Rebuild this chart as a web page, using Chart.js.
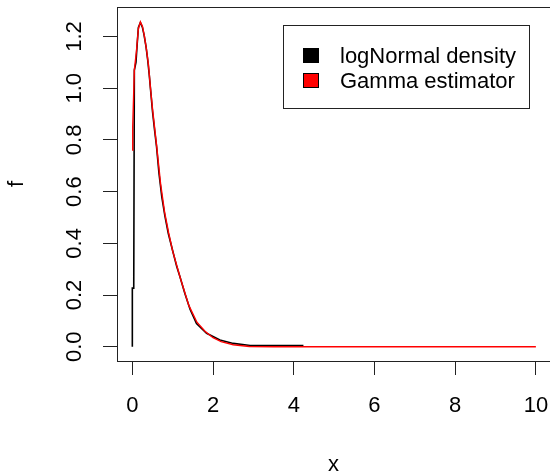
<!DOCTYPE html>
<html>
<head>
<meta charset="utf-8">
<script src="https://cdn.jsdelivr.net/npm/chart.js@4/dist/chart.umd.min.js"></script>
<style>
  body { margin: 0; background: #fff; }
  #wrap { width: 550px; height: 473px; }
</style>
</head>
<body>
<div id="wrap"><canvas id="densityChart" width="550" height="473"></canvas></div>
<script>
// values
const blackX = [0, 0, 0.035, 0.05, 0.09, 0.12, 0.15, 0.2, 0.25, 0.29, 0.34, 0.38, 0.42, 0.46, 0.5, 0.55, 0.6, 0.66, 0.73, 0.81, 0.89, 0.99, 1.1, 1.18, 1.3, 1.43, 1.59, 1.84, 2.17, 2.5, 2.92, 3.5, 4.24];
const blackY = [0, 0.227, 0.227, 1.07, 1.1, 1.17, 1.235, 1.254, 1.235, 1.206, 1.16, 1.11, 1.05, 0.98, 0.91, 0.84, 0.774, 0.671, 0.58, 0.503, 0.439, 0.377, 0.31, 0.271, 0.207, 0.145, 0.09, 0.052, 0.026, 0.013, 0.005, 0.005, 0.005];

const redX = [0, 0.01, 0.05, 0.1, 0.15, 0.2, 0.25, 0.3, 0.35, 0.4, 0.45, 0.5, 0.6, 0.7, 0.8, 0.9, 1.0, 1.2, 1.4, 1.6, 1.8, 2.0, 2.2, 2.5, 2.9, 3.5, 5, 10];
const redY = [0.76, 0.85, 1.07, 1.14, 1.23, 1.256, 1.24, 1.2, 1.15, 1.09, 1.0, 0.92, 0.78, 0.63, 0.52, 0.44, 0.37, 0.26, 0.16, 0.095, 0.06, 0.035, 0.02, 0.008, 0.001, 0, 0, 0];

const xTicks = [0, 2, 4, 6, 8, 10];
const yTicks = [0, 0.2, 0.4, 0.6, 0.8, 1.0, 1.2];
const seriesNames = ['logNormal density', 'Gamma estimator'];
const seriesColors = ['#000000', '#ff0000'];

const FONT = '"Liberation Sans", Arial, sans-serif';

function toPoints(xs, ys) {
    return xs.map((x, i) => ({ x: x, y: ys[i] }));
}

// R-style full box around the plot region
const boxPlugin = {
    id: 'box',
    afterDraw(chart) {
        const { ctx, chartArea: a } = chart;
        ctx.save();
        ctx.strokeStyle = '#222';
        ctx.lineWidth = 1;
        ctx.strokeRect(a.left + 0.5, a.top + 0.5, a.right - a.left, a.bottom - a.top);
        ctx.restore();
    }
};

// legend box in the top right corner
const legendPlugin = {
    id: 'rLegend',
    afterDraw(chart) {
        const ctx = chart.ctx;
        ctx.save();
        ctx.fillStyle = '#fff';
        ctx.fillRect(283, 25, 246, 83);
        ctx.strokeStyle = '#222';
        ctx.lineWidth = 1;
        ctx.strokeRect(283.5, 25.5, 246, 83);
        ctx.font = '22px ' + FONT;
        ctx.textBaseline = 'alphabetic';
        chart.data.datasets.forEach((ds, i) => {
            const y = 48 + i * 25;
            ctx.fillStyle = ds.borderColor;
            ctx.fillRect(303, y, 16, 15);
            ctx.strokeStyle = '#000';
            ctx.strokeRect(303.5, y + 0.5, 15, 14);
            ctx.fillStyle = '#000';
            ctx.fillText(ds.label, 340, 63 + i * 25);
        });
        ctx.restore();
    }
};

const ctx = document.getElementById('densityChart').getContext('2d');

new Chart(ctx, {
    type: 'line',
    data: {
        datasets: [
            {
                label: seriesNames[0],
                data: toPoints(blackX, blackY),
                borderColor: seriesColors[0],
                borderWidth: 1.6,
                pointRadius: 0,
                tension: 0,
                order: 1
            },
            {
                label: seriesNames[1],
                data: toPoints(redX, redY),
                borderColor: seriesColors[1],
                borderWidth: 1.4,
                pointRadius: 0,
                tension: 0,
                order: 0
            }
        ]
    },
    options: {
        responsive: false,
        animation: false,
        devicePixelRatio: 1,
        layout: { padding: { top: 7, right: 0, bottom: 0, left: 0 } },
        plugins: {
            legend: { display: false },
            tooltip: { enabled: false }
        },
        scales: {
            x: {
                type: 'linear',
                min: -0.38,
                max: 10.35,
                afterBuildTicks: scale => { scale.ticks = xTicks.map(v => ({ value: v })); },
                afterFit: scale => {
                    scale.height = 112;
                    scale.paddingLeft = 0;
                    scale.paddingRight = 0;
                },
                grid: { drawOnChartArea: false, drawTicks: true, tickLength: 14, color: '#222' },
                border: { display: false },
                ticks: {
                    color: '#000',
                    padding: 18,
                    maxRotation: 0,
                    font: { family: FONT, size: 22, lineHeight: 1.2 },
                    callback: v => String(v)
                },
                title: {
                    display: true,
                    text: 'x',
                    color: '#000',
                    padding: 0,
                    font: { family: FONT, size: 22, lineHeight: 0.7 }
                }
            },
            y: {
                type: 'linear',
                min: -0.055,
                max: 1.314,
                afterBuildTicks: scale => { scale.ticks = yTicks.map(v => ({ value: v })); },
                afterFit: scale => {
                    scale.width = 117;
                    scale.paddingTop = 0;
                    scale.paddingBottom = 0;
                },
                grid: { drawOnChartArea: false, drawTicks: true, tickLength: 14, color: '#222' },
                border: { display: false },
                ticks: {
                    color: '#000',
                    padding: 13,
                    minRotation: 90,
                    maxRotation: 90,
                    crossAlign: 'center',
                    font: { family: FONT, size: 22, lineHeight: 1.2 },
                    callback: v => v.toFixed(1)
                },
                title: {
                    display: true,
                    text: 'f',
                    color: '#000',
                    padding: { top: 4, bottom: 0 },
                    font: { family: FONT, size: 22, lineHeight: 1.2 }
                }
            }
        }
    },
    plugins: [boxPlugin, legendPlugin]
});
</script>
</body>
</html>
